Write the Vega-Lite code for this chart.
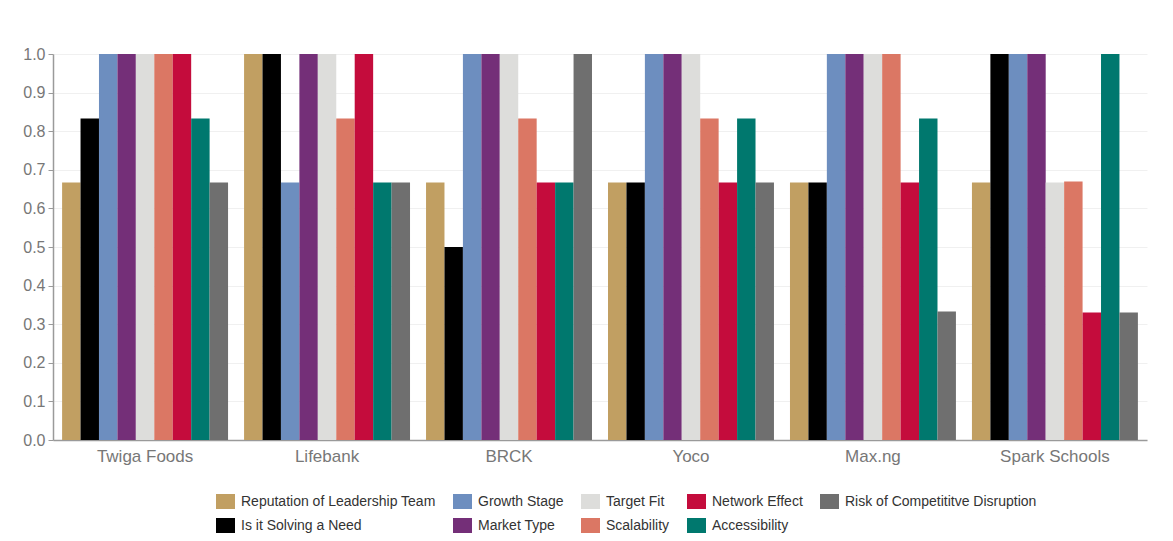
{
  "$schema": "https://vega.github.io/schema/vega-lite/v6.json",
  "autosize": {"type": "none"},
  "width": 1094,
  "height": 386,
  "padding": {"left": 53, "top": 54, "right": 26, "bottom": 101},
  "background": "white",
  "config": {
    "font": "Liberation Sans",
    "view": {"stroke": null}
  },
  "data": {
    "values": [
      {"company": "Twiga Foods", "criterion": "Reputation of Leadership Team", "value": 0.667},
      {"company": "Twiga Foods", "criterion": "Is it Solving a Need", "value": 0.833},
      {"company": "Twiga Foods", "criterion": "Growth Stage", "value": 1},
      {"company": "Twiga Foods", "criterion": "Market Type", "value": 1},
      {"company": "Twiga Foods", "criterion": "Target Fit", "value": 1},
      {"company": "Twiga Foods", "criterion": "Scalability", "value": 1},
      {"company": "Twiga Foods", "criterion": "Network Effect", "value": 1},
      {"company": "Twiga Foods", "criterion": "Accessibility", "value": 0.833},
      {"company": "Twiga Foods", "criterion": "Risk of Competititve Disruption", "value": 0.667},
      {"company": "Lifebank", "criterion": "Reputation of Leadership Team", "value": 1},
      {"company": "Lifebank", "criterion": "Is it Solving a Need", "value": 1},
      {"company": "Lifebank", "criterion": "Growth Stage", "value": 0.667},
      {"company": "Lifebank", "criterion": "Market Type", "value": 1},
      {"company": "Lifebank", "criterion": "Target Fit", "value": 1},
      {"company": "Lifebank", "criterion": "Scalability", "value": 0.833},
      {"company": "Lifebank", "criterion": "Network Effect", "value": 1},
      {"company": "Lifebank", "criterion": "Accessibility", "value": 0.667},
      {"company": "Lifebank", "criterion": "Risk of Competititve Disruption", "value": 0.667},
      {"company": "BRCK", "criterion": "Reputation of Leadership Team", "value": 0.667},
      {"company": "BRCK", "criterion": "Is it Solving a Need", "value": 0.5},
      {"company": "BRCK", "criterion": "Growth Stage", "value": 1},
      {"company": "BRCK", "criterion": "Market Type", "value": 1},
      {"company": "BRCK", "criterion": "Target Fit", "value": 1},
      {"company": "BRCK", "criterion": "Scalability", "value": 0.833},
      {"company": "BRCK", "criterion": "Network Effect", "value": 0.667},
      {"company": "BRCK", "criterion": "Accessibility", "value": 0.667},
      {"company": "BRCK", "criterion": "Risk of Competititve Disruption", "value": 1},
      {"company": "Yoco", "criterion": "Reputation of Leadership Team", "value": 0.667},
      {"company": "Yoco", "criterion": "Is it Solving a Need", "value": 0.667},
      {"company": "Yoco", "criterion": "Growth Stage", "value": 1},
      {"company": "Yoco", "criterion": "Market Type", "value": 1},
      {"company": "Yoco", "criterion": "Target Fit", "value": 1},
      {"company": "Yoco", "criterion": "Scalability", "value": 0.833},
      {"company": "Yoco", "criterion": "Network Effect", "value": 0.667},
      {"company": "Yoco", "criterion": "Accessibility", "value": 0.833},
      {"company": "Yoco", "criterion": "Risk of Competititve Disruption", "value": 0.667},
      {"company": "Max.ng", "criterion": "Reputation of Leadership Team", "value": 0.667},
      {"company": "Max.ng", "criterion": "Is it Solving a Need", "value": 0.667},
      {"company": "Max.ng", "criterion": "Growth Stage", "value": 1},
      {"company": "Max.ng", "criterion": "Market Type", "value": 1},
      {"company": "Max.ng", "criterion": "Target Fit", "value": 1},
      {"company": "Max.ng", "criterion": "Scalability", "value": 1},
      {"company": "Max.ng", "criterion": "Network Effect", "value": 0.667},
      {"company": "Max.ng", "criterion": "Accessibility", "value": 0.833},
      {"company": "Max.ng", "criterion": "Risk of Competititve Disruption", "value": 0.333},
      {"company": "Spark Schools", "criterion": "Reputation of Leadership Team", "value": 0.667},
      {"company": "Spark Schools", "criterion": "Is it Solving a Need", "value": 1},
      {"company": "Spark Schools", "criterion": "Growth Stage", "value": 1},
      {"company": "Spark Schools", "criterion": "Market Type", "value": 1},
      {"company": "Spark Schools", "criterion": "Target Fit", "value": 0.667},
      {"company": "Spark Schools", "criterion": "Scalability", "value": 0.67},
      {"company": "Spark Schools", "criterion": "Network Effect", "value": 0.33},
      {"company": "Spark Schools", "criterion": "Accessibility", "value": 1},
      {"company": "Spark Schools", "criterion": "Risk of Competititve Disruption", "value": 0.33}
    ]
  },
  "mark": {"type": "bar"},
  "encoding": {
    "x": {
      "field": "company",
      "type": "nominal",
      "sort": ["Twiga Foods", "Lifebank", "BRCK", "Yoco", "Max.ng", "Spark Schools"],
      "scale": {"paddingInner": 0.088, "paddingOuter": 0.05},
      "axis": {
        "title": null,
        "labelAngle": 0,
        "labelFontSize": 17,
        "labelColor": "#777777",
        "labelPadding": 8,
        "ticks": false,
        "domainColor": "#9a9a9a",
        "domainWidth": 1.5
      }
    },
    "xOffset": {
      "field": "criterion",
      "type": "nominal",
      "sort": ["Reputation of Leadership Team", "Is it Solving a Need", "Growth Stage", "Market Type", "Target Fit", "Scalability", "Network Effect", "Accessibility", "Risk of Competititve Disruption"],
      "scale": {"paddingInner": 0, "paddingOuter": 0}
    },
    "y": {
      "field": "value",
      "type": "quantitative",
      "scale": {"domain": [0, 1], "nice": false},
      "axis": {
        "title": null,
        "values": [0, 0.1, 0.2, 0.3, 0.4, 0.5, 0.6, 0.7, 0.8, 0.9, 1.0],
        "format": ".1f",
        "labelFontSize": 16,
        "labelColor": "#777777",
        "labelPadding": 3,
        "tickColor": "#9a9a9a",
        "tickSize": 5,
        "domainColor": "#9a9a9a",
        "domainWidth": 1.5,
        "gridColor": "#f0f0f0",
        "gridWidth": 1
      }
    },
    "color": {
      "field": "criterion",
      "type": "nominal",
      "scale": {
        "domain": ["Reputation of Leadership Team", "Growth Stage", "Target Fit", "Network Effect", "Risk of Competititve Disruption", "Is it Solving a Need", "Market Type", "Scalability", "Accessibility"],
        "range": ["#C19F62", "#6D8EBF", "#DDDDDB", "#C40C3C", "#6F6F6F", "#000000", "#742F78", "#DB7764", "#00786E"]
      },
      "legend": {
        "title": null,
        "orient": "none",
        "legendX": 165,
        "legendY": 440,
        "direction": "horizontal",
        "columns": 5,
        "columnPadding": 16,
        "rowPadding": 9,
        "symbolType": "M-1.27,-1H1.27V1H-1.27Z",
        "symbolSize": 225,
        "symbolStrokeWidth": 0,
        "symbolOpacity": 1,
        "labelFontSize": 14,
        "labelColor": "#333333",
        "labelOffset": 8,
        "labelLimit": 400
      }
    }
  }
}
